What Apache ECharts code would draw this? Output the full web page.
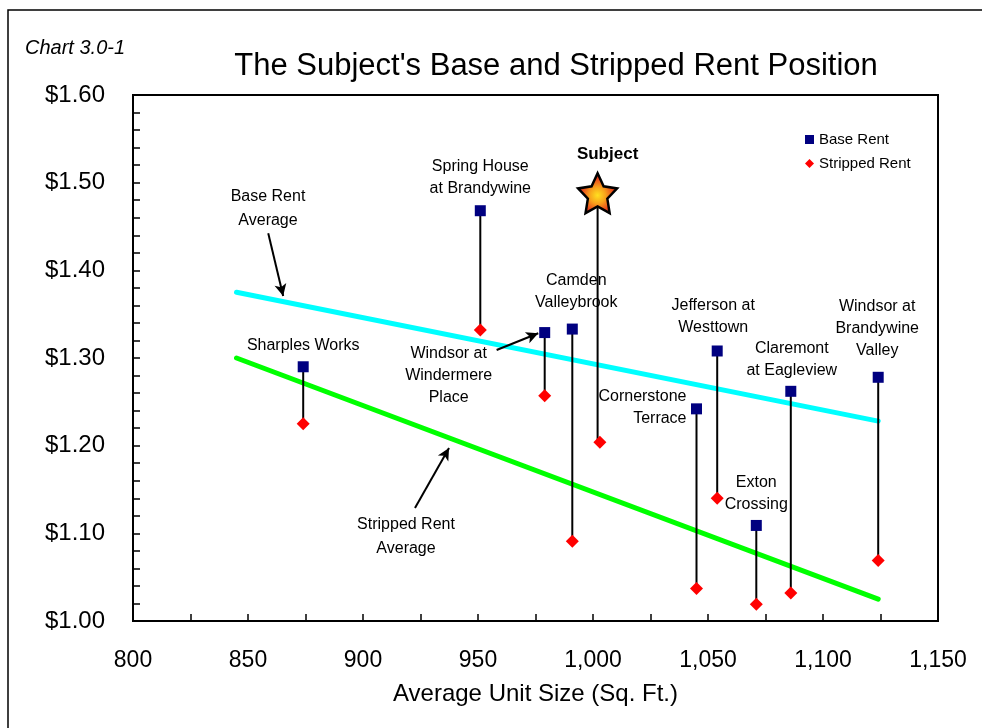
<!DOCTYPE html>
<html>
<head>
<meta charset="utf-8">
<script src="https://cdn.jsdelivr.net/npm/echarts@6/dist/echarts.min.js"></script>
<style>
  html, body { margin: 0; padding: 0; background: #fff; }
  #chart { width: 982px; height: 728px; }
</style>
</head>
<body>
<div id="chart"></div>
<script>
// Comparable properties: unit size (sq. ft.) and rent per sq. ft.
const properties = [
  'Sharples Works', 'Spring House\nat Brandywine', 'Windsor at\nWindermere\nPlace',
  'Camden\nValleybrook', 'Cornerstone\nTerrace', 'Jefferson at\nWesttown',
  'Exton\nCrossing', 'Claremont\nat Eagleview', 'Windsor at\nBrandywine\nValley'
];
const unitSize     = [874, 951, 979, 991, 1045, 1054, 1071, 1086, 1124];
const baseRent     = [1.290, 1.468, 1.329, 1.333, 1.242, 1.308, 1.109, 1.262, 1.278];
const strippedRent = [1.225, 1.332, 1.257, 1.091, 1.037, 1.140, 1.019, 1.032, 1.069];

// The subject property
const subjectName = 'Subject';
const subjectSize = 1002;
const subjectBase = 1.488;
const subjectStripped = 1.204;

// Average trend lines (endpoints)
const trendX        = [845, 1124];
const baseAvg       = [1.375, 1.228];
const strippedAvg   = [1.300, 1.025];

// Axis ticks
const xTicks = { min: 800, max: 1150, step: 50 };
const yTicks = { min: 1.00, max: 1.60, step: 0.10 };

// Label placement for each property name (offset from its base-rent marker)
const labelPlacement = [
  { offset: [0, -21] },
  { offset: [0, -33] },
  { offset: [-96, 43] },
  { offset: [4, -37] },
  { offset: [-10, -1], align: 'right' },
  { offset: [-4, -34] },
  { offset: [0, -32] },
  { offset: [1, -32] },
  { offset: [-1, -49] }
];

// Callout arrows in data coordinates: [fromX, fromY, toX, toY]
const calloutArrows = [
  [858.8, 1.4422, 865.3, 1.3707],
  [922.6, 1.1289, 937.4, 1.1973],
  [958.1, 1.3091, 976.2, 1.3282]
];

const FONT = '"Liberation Sans", Arial, sans-serif';

const starPath = 'path://M50 0 L64.69 29.78 L97.55 34.55 L73.78 57.73 L79.39 90.45 L50 75 L20.61 90.45 L26.22 57.73 L2.45 34.55 L35.31 29.78 Z';

const chart = echarts.init(document.getElementById('chart'), null, { renderer: 'canvas' });

const baseData = unitSize.map((x, i) => {
  const p = labelPlacement[i];
  return {
    name: properties[i],
    value: [x, baseRent[i]],
    label: {
      show: true,
      position: 'inside',
      offset: p.offset,
      align: p.align || 'center',
      verticalAlign: 'middle',
      formatter: '{b}'
    }
  };
});

const strippedData = unitSize.map((x, i) => [x, strippedRent[i]]);
strippedData.push([subjectSize + 1, subjectStripped]);

const connectorData = unitSize.map((x, i) => [x, baseRent[i], strippedRent[i]]);
connectorData.push([subjectSize, subjectBase, subjectStripped]);

const option = {
  animation: false,
  backgroundColor: '#fff',
  textStyle: { fontFamily: FONT },
  grid: {
    left: 133, right: 44, top: 95, bottom: 107,
    show: true, borderColor: '#000', borderWidth: 2, backgroundColor: '#fff'
  },
  graphic: [
    { type: 'rect', z: -1, shape: { x: 8, y: 10, width: 1000, height: 800 },
      style: { fill: 'none', stroke: '#000', lineWidth: 1.5 } },
    { type: 'text', style: { text: 'Chart 3.0-1', x: 25, y: 48, font: 'italic 20px ' + FONT,
      fill: '#000', verticalAlign: 'middle' } },
    { type: 'text', style: { text: "The Subject's Base and Stripped Rent Position", x: 556, y: 66,
      font: '31px ' + FONT, fill: '#000', align: 'center', verticalAlign: 'middle' } },
    { type: 'text', style: { text: 'Base Rent\nAverage', x: 268, y: 209, font: '16px ' + FONT,
      lineHeight: 24, fill: '#000', align: 'center', verticalAlign: 'middle' } },
    { type: 'text', style: { text: 'Stripped Rent\nAverage', x: 406, y: 537, font: '16px ' + FONT,
      lineHeight: 24, fill: '#000', align: 'center', verticalAlign: 'middle' } }
  ],
  legend: {
    orient: 'vertical',
    left: 800, top: 127,
    itemGap: 9,
    itemWidth: 9, itemHeight: 9,
    textStyle: { fontSize: 15, color: '#000', fontFamily: FONT },
    data: [
      { name: 'Base Rent', icon: 'rect' },
      { name: 'Stripped Rent', icon: 'diamond' }
    ]
  },
  xAxis: {
    type: 'value',
    min: xTicks.min, max: xTicks.max, interval: xTicks.step,
    name: 'Average Unit Size (Sq. Ft.)',
    nameLocation: 'middle', nameGap: 61,
    nameTextStyle: { fontSize: 24, color: '#000', fontFamily: FONT },
    axisLine: { lineStyle: { color: '#000', width: 2 } },
    axisTick: { show: true, inside: true, length: 7, lineStyle: { color: '#000', width: 1.5 } },
    minorTick: { show: true, splitNumber: 2, length: 7, lineStyle: { color: '#000', width: 1.5 } },
    splitLine: { show: false },
    axisLabel: {
      margin: 28, fontSize: 23, color: '#000', fontFamily: FONT,
      formatter: v => v.toLocaleString('en-US')
    }
  },
  yAxis: {
    type: 'value',
    min: yTicks.min, max: yTicks.max, interval: yTicks.step,
    axisLine: { show: true, lineStyle: { color: '#000', width: 2 } },
    axisTick: { show: true, inside: true, length: 7, lineStyle: { color: '#000', width: 1.5 } },
    minorTick: { show: true, splitNumber: 5, length: 7, lineStyle: { color: '#000', width: 1.5 } },
    splitLine: { show: false },
    axisLabel: {
      margin: 28, fontSize: 24, color: '#000', fontFamily: FONT,
      formatter: v => '$' + v.toFixed(2)
    }
  },
  series: [
    {
      name: 'Base Rent Average',
      type: 'line',
      data: trendX.map((x, i) => [x, baseAvg[i]]),
      symbol: 'none',
      lineStyle: { color: '#00FFFF', width: 5, cap: 'round' },
      z: 1,
      markLine: {
        silent: true,
        symbol: ['none', 'arrow'],
        symbolSize: [9, 12],
        label: { show: false },
        lineStyle: { color: '#000', width: 2, type: 'solid' },
        data: calloutArrows.map(a => [{ coord: [a[0], a[1]] }, { coord: [a[2], a[3]] }])
      }
    },
    {
      name: 'Stripped Rent Average',
      type: 'line',
      data: trendX.map((x, i) => [x, strippedAvg[i]]),
      symbol: 'none',
      lineStyle: { color: '#00FF00', width: 5, cap: 'round' },
      z: 1
    },
    {
      name: 'Connectors',
      type: 'custom',
      z: 2,
      data: connectorData,
      renderItem: (params, api) => {
        const a = api.coord([api.value(0), api.value(1)]);
        const b = api.coord([api.value(0), api.value(2)]);
        return {
          type: 'line',
          shape: { x1: a[0], y1: a[1], x2: b[0], y2: b[1] },
          style: { stroke: '#000', lineWidth: 2 }
        };
      }
    },
    {
      name: 'Stripped Rent',
      type: 'scatter',
      z: 3,
      symbol: 'diamond',
      symbolSize: 13,
      itemStyle: { color: '#FF0000', opacity: 1 },
      data: strippedData
    },
    {
      name: 'Base Rent',
      type: 'scatter',
      z: 4,
      symbol: 'rect',
      symbolSize: 11,
      itemStyle: { color: '#000080', opacity: 1 },
      label: { fontSize: 16, lineHeight: 22, color: '#000', fontFamily: FONT },
      data: baseData
    },
    {
      name: subjectName,
      type: 'scatter',
      z: 5,
      symbol: starPath,
      symbolSize: [39, 40],
      itemStyle: {
        color: {
          type: 'radial', x: 0.5, y: 0.55, r: 0.55,
          colorStops: [
            { offset: 0, color: '#FFE020' },
            { offset: 0.35, color: '#F7A21B' },
            { offset: 0.7, color: '#E8461B' },
            { offset: 1, color: '#C8201A' }
          ]
        },
        borderColor: '#000', borderWidth: 2.5, opacity: 1
      },
      label: {
        show: true, position: 'inside', offset: [10, -39],
        formatter: '{a}', fontSize: 17, fontWeight: 'bold', color: '#000', fontFamily: FONT
      },
      data: [[subjectSize, subjectBase]]
    }
  ]
};

chart.setOption(option);
</script>
</body>
</html>
